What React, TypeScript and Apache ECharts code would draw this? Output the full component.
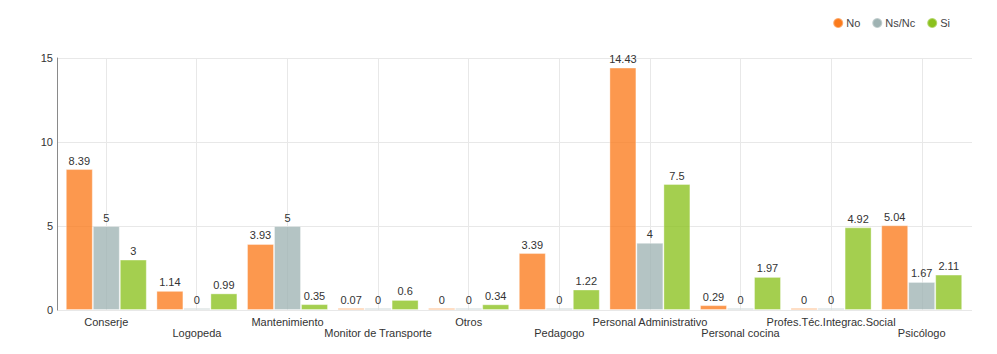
import React, { useEffect, useRef } from "react";
import * as echarts from "echarts";

const categories = [
  "Conserje",
  "Logopeda",
  "Mantenimiento",
  "Monitor de Transporte",
  "Otros",
  "Pedagogo",
  "Personal Administrativo",
  "Personal cocina",
  "Profes.Téc.Integrac.Social",
  "Psicólogo",
];
const seriesNames = ["No", "Ns/Nc", "Si"];
const noValues = [8.39, 1.14, 3.93, 0.07, 0, 3.39, 14.43, 0.29, 0, 5.04];
const nsncValues = [5, 0, 5, 0, 0, 0, 4, 0, 0, 1.67];
const siValues = [3, 0.99, 0.35, 0.6, 0.34, 1.22, 7.5, 1.97, 4.92, 2.11];
const yTicks = { min: 0, max: 15, interval: 5 };

const legendColors = ["#fb7b1c", "#9fb3b3", "#8bc11d"];
const barColors = ["rgba(251,123,28,0.78)", "rgba(159,179,179,0.78)", "rgba(139,193,29,0.78)"];
const FONT = "'Liberation Sans', Arial, Helvetica, sans-serif";
const GRID_COLOR = "#e8e8e8";
const FS = 11;

export default function App() {
  const ref = useRef<HTMLDivElement>(null);
  useEffect(() => {
    document.body.style.margin = "0";
    if (!ref.current) return;
    const chart = echarts.init(ref.current, null, { renderer: "svg" });
    const values = [noValues, nsncValues, siValues];
    chart.setOption({
      animation: false,
      textStyle: { fontFamily: FONT },
      legend: {
        data: seriesNames.map((n, i) => ({ name: n, itemStyle: { color: legendColors[i] } })),
        right: 42,
        top: 12,
        icon: "circle",
        itemWidth: 10,
        itemHeight: 10,
        itemGap: 11,
        textStyle: { fontSize: FS, color: "#444", fontFamily: FONT, padding: [0, 0, 0, -2] },
      },
      grid: [
        { left: 61, right: 30, top: 58, bottom: 44 },
        { left: 57, right: 25, top: 58, bottom: 44 },
        { left: 106, right: 75, top: 58, bottom: 44 },
      ],
      xAxis: [
        {
          type: "category",
          gridIndex: 0,
          data: categories,
          axisLine: { show: false },
          axisTick: { show: false },
          splitLine: { show: false },
          axisLabel: {
            interval: 0,
            margin: 6,
            color: "#333",
            fontSize: FS,
            fontFamily: FONT,
            formatter: (v: string, i: number) => (i % 2 ? "{b|" + v + "}" : "{a|" + v + "}"),
            rich: {
              a: { fontSize: FS, color: "#333", fontFamily: FONT },
              b: { fontSize: FS, color: "#333", fontFamily: FONT, padding: [11, 0, 0, 0] },
            },
          },
        },
        { type: "value", gridIndex: 1, show: false, min: 0, max: 1 },
        {
          type: "category",
          gridIndex: 2,
          data: categories,
          boundaryGap: false,
          axisLine: { show: false },
          axisTick: { show: false },
          axisLabel: { show: false },
          splitLine: { show: true, interval: 0, lineStyle: { color: GRID_COLOR, width: 1 } },
        },
      ],
      yAxis: [
        {
          type: "value",
          gridIndex: 0,
          min: yTicks.min,
          max: yTicks.max,
          interval: yTicks.interval,
          axisLine: { show: false },
          axisTick: { show: false },
          axisLabel: { show: false },
          splitLine: { show: false },
        },
        {
          type: "value",
          gridIndex: 1,
          min: yTicks.min,
          max: yTicks.max,
          interval: yTicks.interval,
          axisLine: { show: true, lineStyle: { color: "#8a8a8a", width: 1 } },
          axisTick: { show: false },
          axisLabel: { color: "#333", fontSize: FS, margin: 4, fontFamily: FONT },
          splitLine: { show: true, lineStyle: { color: GRID_COLOR, width: 1 } },
        },
        {
          type: "value",
          gridIndex: 2,
          min: yTicks.min,
          max: yTicks.max,
          show: false,
        },
      ],
      series: seriesNames.map((name, i) => ({
        name,
        type: "bar",
        xAxisIndex: 0,
        yAxisIndex: 0,
        data: values[i],
        barWidth: 27,
        barGap: "0%",
        barMinHeight: 2,
        itemStyle: { color: barColors[i], borderColor: "rgba(255,255,255,0.35)", borderWidth: 1 },
        label: {
          show: true,
          position: "top",
          distance: 3,
          color: "#333",
          fontSize: FS,
          fontFamily: FONT,
        },
      })),
    });
    return () => chart.dispose();
  }, []);
  return <div ref={ref} style={{ width: 997, height: 354 }} />;
}
